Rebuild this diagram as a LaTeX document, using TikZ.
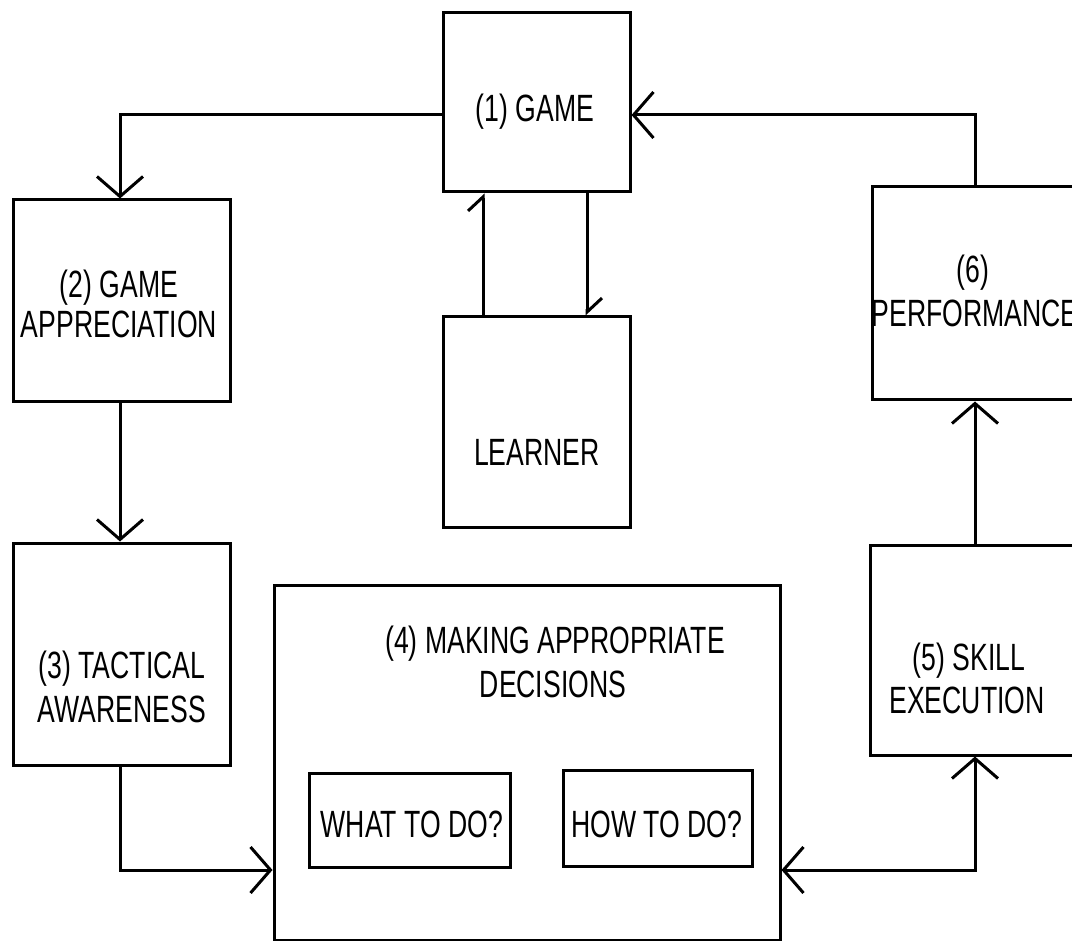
\documentclass[tikz,border=0pt]{standalone}
\usepackage{fontspec}
\setmainfont[FakeStretch=0.70]{Liberation Sans}
\usetikzlibrary{arrows.meta}
\begin{document}
\begin{tikzpicture}[x=1pt,y=-1pt,
  box/.style={draw, line width=3pt, inner sep=0pt, rectangle},
  lbl/.style={anchor=base, inner sep=0pt, font=\fontsize{38}{43}\selectfont},
  barb/.tip={Straight Barb[length=20pt,width=46pt,line width=3pt]},
  conn/.style={line width=3pt, -barb},
  dconn/.style={line width=3pt, barb-barb},
  harp/.style={line width=3pt, -{Straight Barb[length=14pt,width=30pt,line width=3pt,harpoon]}}
]
\useasboundingbox (0,0) rectangle (1072,941);
\clip (0,0) rectangle (1072,941);
\fill[white] (0,0) rectangle (1072,941);

% boxes
\node[box, minimum width=187pt, minimum height=179pt] (game) at (536.5,102.5) {};
\node[box, minimum width=187pt, minimum height=210pt] (learner) at (536.5,422) {};
\node[box, minimum width=217pt, minimum height=202pt] (appr) at (121.5,301) {};
\node[box, minimum width=217pt, minimum height=222pt] (tact) at (121.5,654) {};
\node[box, minimum width=506pt, minimum height=355pt] (dec) at (527,762.5) {};
\node[box, minimum width=201pt, minimum height=94pt] (what) at (409.5,820) {};
\node[box, minimum width=189pt, minimum height=96pt] (how) at (657.5,818) {};
\node[box, minimum width=213pt, minimum height=213pt] (perf) at (978.5,293.5) {};
\node[box, minimum width=215pt, minimum height=210pt] (skill) at (977.5,650) {};

% labels
\node[lbl] (t1) at (535,122) {(1) GAME};
\node[lbl] (tl) at (537,465) {LEARNER};
\node[lbl] (t2a) at (119,298) {(2) GAME};
\node[lbl] (t2b) at (119,338) {APPRECIATION};
\node[lbl] (t3a) at (122,678) {(3) TACTICAL};
\node[lbl] (t3b) at (122,722) {AWARENESS};
\node[lbl] (t4a) at (555,653) {(4) MAKING APPROPRIATE};
\node[lbl] (t4b) at (553,697) {DECISIONS};
\node[lbl] (tw) at (412,837) {WHAT TO DO?};
\node[lbl] (th) at (657,837) {HOW TO DO?};
\node[lbl] (t5a) at (969,670) {(5) SKILL};
\node[lbl] (t5b) at (967,713) {EXECUTION};
\node[lbl] (t6a) at (973,283) {(6)};
\node[lbl] (t6b) at (975,327) {PERFORMANCE};

% bend points
\coordinate (b1) at (120,115);
\coordinate (b3) at (120,870);
\coordinate (b4) at (975,870);
\coordinate (b6) at (975,115);
\coordinate (u) at (483,0);
\coordinate (d) at (587,0);

% connectors
\draw[conn] (game.west |- b1) -- (b1) -- (b1 |- appr.north);
\draw[conn] (b1 |- appr.south) -- (b1 |- tact.north);
\draw[conn] (b1 |- tact.south) -- (b3) -- (b3 -| dec.west);
\draw[dconn] (b4 -| dec.east) -- (b4) -- (b4 |- skill.south);
\draw[conn] (b4 |- skill.north) -- (b4 |- perf.south);
\draw[conn] (b6 |- perf.north) -- (b6) -- (b6 -| game.east);
\draw[harp] (u |- learner.north) -- (u |- game.south);
\draw[harp] (d |- game.south) -- (d |- learner.north);
\end{tikzpicture}
\end{document}
